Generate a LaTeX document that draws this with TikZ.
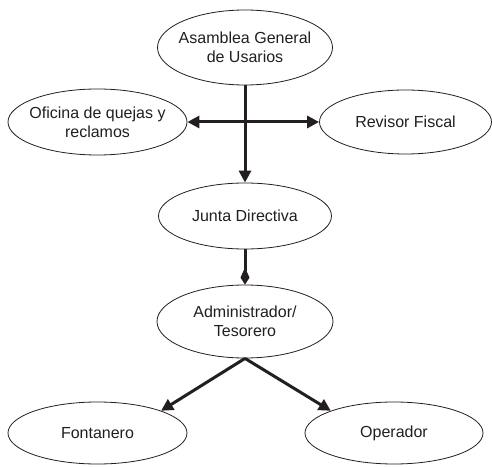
\documentclass[tikz,border=0pt]{standalone}
\usepackage{fontspec}
\setmainfont{Liberation Sans}
\usetikzlibrary{shapes.geometric,arrows.meta}
\definecolor{ink}{HTML}{231F20}
\begin{document}
\begin{tikzpicture}[x=1pt,y=1pt,
  bubble/.style={ellipse, draw=ink, fill=white, line width=0.8pt, inner sep=0pt},
  caption/.style={align=center, text=ink, font=\fontsize{16}{19}\selectfont},
  conn/.style={draw=ink, line width=3pt},
  tri/.tip={Triangle[length=12pt,width=12pt]},
  kite/.tip={Kite[length=17pt,width=9pt,inset=10pt]}]
\useasboundingbox[fill=white] (0,0) rectangle (492,466);

% organisation chart bubbles
\node[bubble, minimum width=175pt, minimum height=75pt,
  label={[caption]center:{Asamblea General\\de Usarios}}] (asam) at (245,418.5) {};
\node[bubble, minimum width=179pt, minimum height=66pt,
  label={[caption]center:{Oficina de quejas y\\reclamos}}] (ofi) at (97.5,344) {};
\node[bubble, minimum width=172pt, minimum height=64pt,
  label={[caption]center:{Revisor Fiscal}}] (rev) at (405.5,344) {};
\node[bubble, minimum width=173pt, minimum height=66pt,
  label={[caption]center:{Junta Directiva}}] (junta) at (245,250) {};
\node[bubble, minimum width=176pt, minimum height=73pt,
  label={[caption]center:{Administrador/\\Tesorero}}] (admin) at (245,144.5) {};
\node[bubble, minimum width=179pt, minimum height=62pt,
  label={[caption]center:{Fontanero}}] (font) at (97.5,33) {};
\node[bubble, minimum width=178pt, minimum height=62pt,
  label={[caption]center:{Operador}}] (oper) at (394,33) {};

% connectors
\draw[conn, {tri}-{tri}] (ofi) -- (rev);
\draw[conn, -{tri}] (asam) -- (junta);
\draw[conn, -{kite}] (junta) -- (admin);
\draw[conn, -{tri}] (admin.south) -- (font.north east);
\draw[conn, -{tri}] (admin.south) -- (oper.north west);
\end{tikzpicture}
\end{document}
